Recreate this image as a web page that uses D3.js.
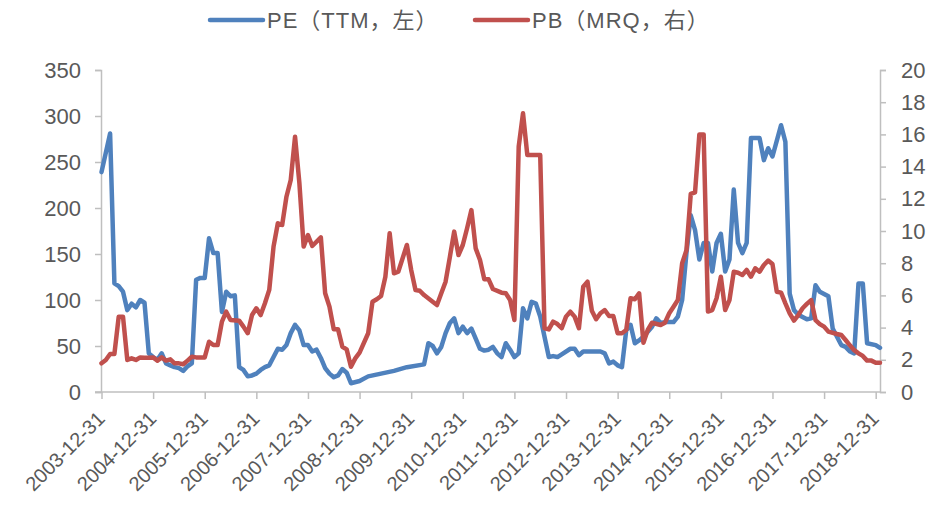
<!DOCTYPE html>
<html>
<head>
<meta charset="utf-8">
<script src="https://cdn.jsdelivr.net/npm/d3@7"></script>
<style>
  body { margin: 0; background: #fff; }
  text { font-family: "Liberation Sans", Arial, "Noto Sans CJK SC", sans-serif; fill: #595959; }
</style>
</head>
<body>
<script>
// months counted from 2003-12 (0 = 2003-12-31)
var peMonths = [0, 2, 3, 4, 5, 6, 7, 8, 9, 10, 11, 12, 13, 14, 15, 16, 17, 18, 19, 20, 21, 22, 23, 24, 25, 26, 27, 28, 29, 30, 31, 32, 33, 34, 35, 36, 37, 38, 39, 40, 41, 42, 43, 44, 45, 46, 47, 48, 49, 50, 51, 52, 53, 54, 55, 56, 57, 58, 60, 62, 65, 68, 71, 75, 76, 77, 78, 79, 80, 81, 82, 83, 84, 85, 86, 87, 88, 89, 90, 91, 92, 93, 94, 95, 96, 97, 98, 99, 100, 101, 102, 104, 105, 106, 107, 109, 110, 111, 112, 116, 117, 118, 119, 120, 121, 122, 123, 124, 125, 126, 128, 129, 130, 131, 133, 134, 135, 136, 137, 138, 139, 140, 141, 142, 143, 144, 145, 146, 147, 148, 149, 150, 151, 153, 154, 155, 156, 158, 159, 160, 161, 162, 164, 165, 166, 167, 169, 170, 172, 173, 174, 175, 176, 177, 178, 180, 181];
var peValues = [239, 281, 118, 115, 109, 89, 96, 92, 100, 97, 42, 38, 35, 42, 31, 29, 27, 26, 23, 28, 31, 122, 124, 124, 167, 151, 151, 87, 109, 104, 105, 27, 24, 17, 18, 20, 24, 27, 29, 38, 47, 46, 51, 64, 73, 67, 51, 51, 44, 46, 37, 26, 20, 16, 18, 25, 21, 9.5, 12, 17, 20, 23, 27, 30, 53, 50, 42, 49, 64, 75, 80, 64, 71, 64, 69, 58, 47, 45, 46, 49, 42, 38, 53, 46, 38, 42, 91, 80, 98, 96, 82, 38, 39, 38, 41, 47, 47, 40, 44, 44, 42, 31, 33, 29, 27, 67, 73, 53, 56, 60, 71, 80, 75, 76, 76, 82, 100, 151, 192, 176, 144, 162, 162, 131, 162, 172, 131, 144, 220, 162, 151, 162, 276, 276, 252, 265, 256, 290, 272, 107, 89, 84, 79, 80, 116, 109, 104, 69, 51, 49, 44, 42, 118, 118, 53, 51, 48];

var pbMonths = [0, 1, 2, 3, 4, 5, 6, 7, 8, 9, 10, 11, 12, 13, 14, 15, 16, 17, 18, 19, 20, 21, 22, 24, 25, 26, 27, 28, 29, 30, 32, 33, 34, 35, 36, 37, 38, 39, 40, 41, 42, 43, 44, 45, 46, 47, 48, 49, 51, 52, 53, 54, 55, 56, 57, 58, 59, 60, 62, 63, 64, 65, 66, 67, 68, 69, 71, 72, 73, 74, 75, 77, 78, 79, 80, 81, 82, 83, 84, 85, 86, 87, 88, 89, 90, 91, 93, 94, 95, 96, 97, 98, 99, 102, 103, 104, 105, 106, 107, 108, 109, 110, 111, 112, 113, 114, 115, 116, 117, 118, 119, 120, 121, 122, 123, 124, 125, 126, 127, 128, 130, 131, 132, 133, 134, 135, 136, 137, 138, 139, 140, 141, 142, 143, 144, 145, 146, 147, 148, 149, 150, 151, 152, 153, 154, 155, 156, 157, 158, 159, 160, 161, 162, 163, 164, 165, 166, 167, 168, 169, 171, 172, 173, 174, 175, 176, 177, 178, 179, 180, 181];
var pbValues = [1.78, 1.99, 2.36, 2.36, 4.68, 4.68, 1.99, 2.09, 1.99, 2.15, 2.13, 2.13, 2.15, 1.95, 2.15, 1.95, 2.03, 1.78, 1.78, 1.72, 1.95, 2.19, 2.15, 2.15, 3.12, 2.92, 2.92, 4.37, 4.99, 4.47, 4.43, 4.06, 3.65, 4.78, 5.2, 4.78, 5.51, 6.34, 9.03, 10.48, 10.37, 12.13, 13.17, 15.86, 13.0, 9.03, 9.75, 9.07, 9.6, 6.13, 5.3, 3.89, 3.89, 2.81, 2.65, 1.57, 2.09, 2.45, 3.65, 5.61, 5.76, 5.96, 7.16, 9.86, 7.37, 7.47, 9.13, 7.58, 6.34, 6.29, 6.02, 5.61, 5.4, 6.13, 6.85, 8.4, 9.96, 8.51, 9.13, 10.17, 11.3, 8.92, 8.2, 7.0, 7.0, 6.4, 6.17, 6.13, 5.71, 4.47, 15.24, 17.31, 14.72, 14.72, 3.96, 3.89, 4.37, 4.22, 3.96, 4.68, 4.99, 4.68, 3.96, 6.54, 6.85, 5.05, 4.52, 4.89, 5.09, 4.72, 4.72, 3.65, 3.65, 3.85, 5.82, 5.76, 6.13, 3.06, 3.85, 4.3, 4.16, 4.3, 4.89, 5.3, 5.71, 8.0, 8.8, 12.3, 12.4, 16.0, 16.0, 5.0, 5.09, 5.82, 7.16, 5.09, 5.71, 7.47, 7.41, 7.27, 7.58, 7.16, 7.68, 7.47, 7.89, 8.16, 7.95, 6.23, 6.17, 5.51, 4.89, 4.43, 4.78, 5.2, 5.47, 5.71, 4.47, 4.22, 4.06, 3.75, 3.6, 3.54, 3.23, 2.9, 2.6, 2.4, 2.24, 1.95, 1.95, 1.82, 1.82];

var yearMonths = [0, 12, 24, 36, 48, 60, 72, 84, 96, 108, 120, 132, 144, 156, 168, 180];
var yearLabels = ["2003-12-31", "2004-12-31", "2005-12-31", "2006-12-31", "2007-12-31", "2008-12-31",
  "2009-12-31", "2010-12-31", "2011-12-31", "2012-12-31", "2013-12-31", "2014-12-31",
  "2015-12-31", "2016-12-31", "2017-12-31", "2018-12-31"];
var leftTicks = [0, 50, 100, 150, 200, 250, 300, 350];
var rightTicks = [0, 2, 4, 6, 8, 10, 12, 14, 16, 18, 20];
var legendNames = ["PE（TTM，左）", "PB（MRQ，右）"];

var width = 941;
var height = 511;
var pad = { top: 70, bottom: 119, left: 101, right: 61 };
var axisColor = "#BFBFBF";
var blue = "#4F81BD";
var red = "#C0504D";

var svg = d3.select("body")
            .append("svg")
            .attr("width", width)
            .attr("height", height);

// scales
var xScale = d3.scaleLinear()
               .domain([0, 181])
               .range([pad.left + 0.5, width - pad.right]);
var yLeft = d3.scaleLinear()
              .domain([0, 350])
              .range([height - pad.bottom, pad.top]);
var yRight = d3.scaleLinear()
               .domain([0, 20])
               .range([height - pad.bottom, pad.top]);

// left axis
var leftAxis = svg.append("g")
   .attr("transform", "translate(" + pad.left + ",0)")
   .call(d3.axisLeft(yLeft).tickValues(leftTicks).tickSize(6).tickPadding(14));
// right axis
var rightAxis = svg.append("g")
   .attr("transform", "translate(" + (width - pad.right) + ",0)")
   .call(d3.axisRight(yRight).tickValues(rightTicks).tickSize(6).tickPadding(15));
// bottom axis
var xAxis = svg.append("g")
   .attr("transform", "translate(0," + (height - pad.bottom) + ")")
   .call(d3.axisBottom(xScale)
           .tickValues(yearMonths)
           .tickSize(7)
           .tickFormat(function(d, i){ return yearLabels[i]; }));

[leftAxis, rightAxis, xAxis].forEach(function(g){
    g.select(".domain").attr("stroke", axisColor).attr("stroke-width", 1.5);
    g.selectAll(".tick line").attr("stroke", axisColor).attr("stroke-width", 1.5);
    g.selectAll("text").attr("fill", "#595959").style("font-size", "22px")
     .style("font-family", "'Liberation Sans', Arial, sans-serif");
});
// x-axis line reaches left to the 0 tick
xAxis.select(".domain").attr("d", "M" + (pad.left - 6) + ",0H" + (width - pad.right));

xAxis.selectAll("text")
     .style("font-size", "20px")
     .attr("text-anchor", "end")
     .attr("dy", null)
     .attr("y", 0)
     .attr("transform", "translate(4,28) rotate(-45)");

// lines
var peData = peMonths.map(function(m, i){ return { m: m, v: peValues[i] }; });
var pbData = pbMonths.map(function(m, i){ return { m: m, v: pbValues[i] }; });

var peLine = d3.line()
               .x(function(d){ return xScale(d.m); })
               .y(function(d){ return yLeft(d.v); });
var pbLine = d3.line()
               .x(function(d){ return xScale(d.m); })
               .y(function(d){ return yRight(d.v); });

svg.append("path")
   .datum(peData)
   .attr("d", peLine)
   .attr("fill", "none")
   .attr("stroke", blue)
   .attr("stroke-width", 4.5)
   .attr("stroke-linejoin", "round")
   .attr("stroke-linecap", "round");

svg.append("path")
   .datum(pbData)
   .attr("d", pbLine)
   .attr("fill", "none")
   .attr("stroke", red)
   .attr("stroke-width", 4.5)
   .attr("stroke-linejoin", "round")
   .attr("stroke-linecap", "round");

// legend
var legendX = [210, 475];
var legendColors = [blue, red];
legendNames.forEach(function(name, i){
    var g = svg.append("g").attr("transform", "translate(" + legendX[i] + ",20)");
    g.append("line")
     .attr("x1", 0).attr("x2", 53)
     .attr("y1", 0).attr("y2", 0)
     .attr("stroke", legendColors[i])
     .attr("stroke-width", 4.5)
     .attr("stroke-linecap", "round");
    g.append("text")
     .attr("x", 57)
     .attr("y", 8)
     .style("font-size", "22px")
     .style("letter-spacing", "1px")
     .text(name);
});
</script>
</body>
</html>
